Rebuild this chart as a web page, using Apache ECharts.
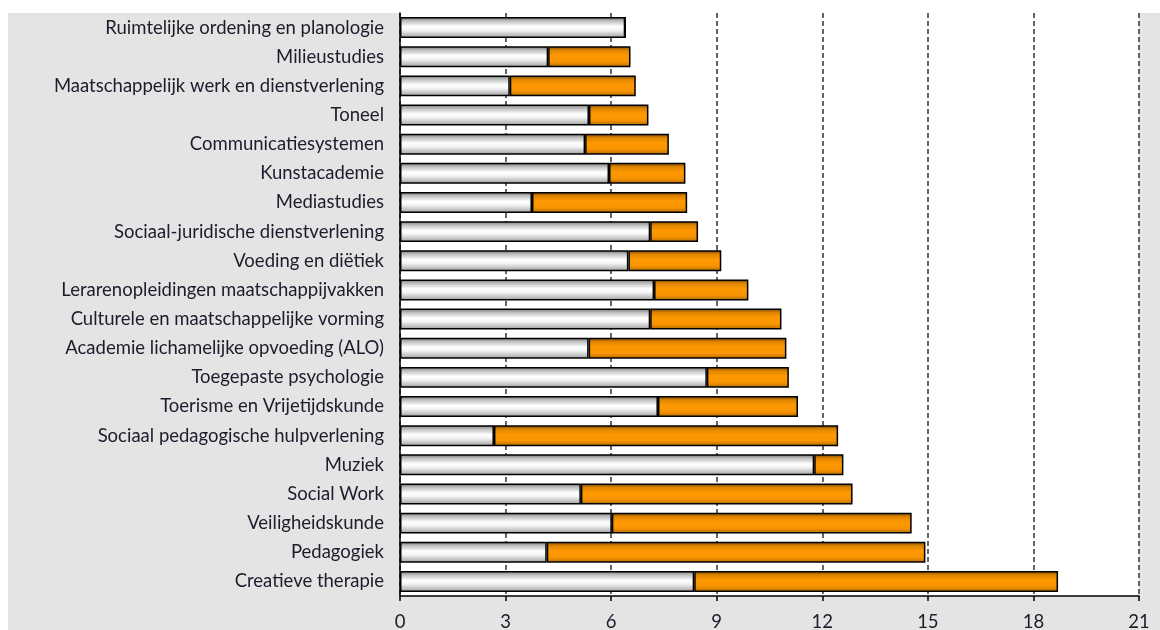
<!DOCTYPE html>
<html>
<head>
<meta charset="utf-8">
<script src="https://cdn.jsdelivr.net/npm/echarts@6/dist/echarts.min.js"></script>
<style>
  html, body { margin: 0; padding: 0; background: #ffffff; }
  #panel { position: absolute; left: 8px; top: 13px; width: 1152px; height: 617px; background: #e4e4e4; }
  #chart { position: absolute; left: 0; top: 0; width: 1160px; height: 630px; }
</style>
</head>
<body>
<div id="panel"></div>
<div id="chart"></div>
<script>
// Opleidingen, top to bottom
const categories = [
  'Ruimtelijke ordening en planologie',
  'Milieustudies',
  'Maatschappelijk werk en dienstverlening',
  'Toneel',
  'Communicatiesystemen',
  'Kunstacademie',
  'Mediastudies',
  'Sociaal-juridische dienstverlening',
  'Voeding en diëtiek',
  'Lerarenopleidingen maatschappijvakken',
  'Culturele en maatschappelijke vorming',
  'Academie lichamelijke opvoeding (ALO)',
  'Toegepaste psychologie',
  'Toerisme en Vrijetijdskunde',
  'Sociaal pedagogische hulpverlening',
  'Muziek',
  'Social Work',
  'Veiligheidskunde',
  'Pedagogiek',
  'Creatieve therapie'
];

// First (grey) segment of each bar
const greySegment = [6.40, 4.21, 3.12, 5.37, 5.26, 5.94, 3.75, 7.11, 6.49, 7.22,
                     7.11, 5.36, 8.72, 7.33, 2.67, 11.77, 5.14, 6.02, 4.17, 8.36];

// Second (orange) segment stacked on top
const orangeSegment = [0, 2.34, 3.58, 1.69, 2.38, 2.17, 4.41, 1.36, 2.64, 2.68,
                       3.73, 5.62, 2.33, 3.98, 9.78, 0.83, 7.72, 8.52, 10.76, 10.34];

const xTicks = { min: 0, max: 21, interval: 3 };

const greyFill = new echarts.graphic.LinearGradient(0, 0, 0, 1, [
  { offset: 0, color: '#6e6e6e' },
  { offset: 0.18, color: '#bdbdbd' },
  { offset: 0.45, color: '#ffffff' },
  { offset: 0.62, color: '#f4f4f4' },
  { offset: 0.85, color: '#c0c0c0' },
  { offset: 1, color: '#959595' }
]);
const orangeFill = new echarts.graphic.LinearGradient(0, 0, 0, 1, [
  { offset: 0, color: '#7a4800' },
  { offset: 0.2, color: '#e08600' },
  { offset: 0.45, color: '#ff9900' },
  { offset: 0.75, color: '#f79400' },
  { offset: 1, color: '#b06a00' }
]);

const chart = echarts.init(document.getElementById('chart'), null, { renderer: 'canvas' });
chart.setOption({
  backgroundColor: 'transparent',
  animation: false,
  textStyle: { fontFamily: 'Lato' },
  grid: {
    left: 400, right: 21, top: 13, bottom: 34,
    outerBoundsMode: 'none',
    containLabel: false,
    show: true, backgroundColor: '#ffffff', borderWidth: 0
  },
  xAxis: {
    type: 'value',
    min: xTicks.min, max: xTicks.max, interval: xTicks.interval,
    axisLine: { show: true, lineStyle: { color: '#000', width: 1.5 } },
    axisTick: { show: true, length: 5, lineStyle: { color: '#000', width: 1.5 } },
    axisLabel: { color: '#1c1c2c', fontSize: 18.5, margin: 17, fontFamily: 'Lato' },
    splitLine: { show: true, lineStyle: { color: '#333', type: [5, 3], width: 1.5 } }
  },
  yAxis: {
    type: 'category',
    inverse: true,
    data: categories,
    axisLine: { show: true, lineStyle: { color: '#000', width: 1.5 } },
    axisTick: { show: false },
    axisLabel: { color: '#1c1c2c', fontSize: 18.5, margin: 16, fontFamily: 'Lato' }
  },
  series: [
    {
      type: 'bar', stack: 'totaal', data: greySegment,
      barCategoryGap: '28%',
      itemStyle: { color: greyFill, borderColor: '#000', borderWidth: 1.5 }
    },
    {
      type: 'bar', stack: 'totaal', data: orangeSegment,
      barCategoryGap: '28%',
      itemStyle: { color: orangeFill, borderColor: '#000', borderWidth: 1.5 }
    }
  ]
});
</script>
</body>
</html>
